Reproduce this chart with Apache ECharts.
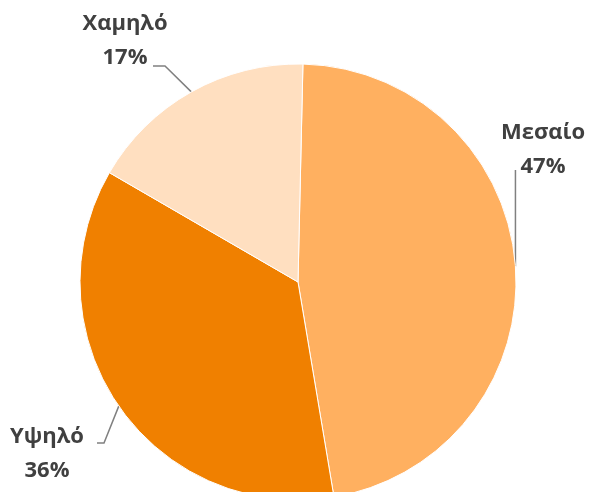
<!DOCTYPE html>
<html lang="el">
<head>
  <meta charset="UTF-8">
  <title>Pie</title>
  <script src="https://cdn.jsdelivr.net/npm/echarts@6/dist/echarts.min.js"></script>
</head>
<body style="margin:0;background:#fff">
  <div id="container" style="width:590px;height:492px;"></div>
  <script>
    // κατηγορίες και τιμές
    var categories = ['Μεσαίο', 'Υψηλό', 'Χαμηλό'];
    var values = [47, 36, 17];
    var colors = ['#FFB060', '#F08000', '#FFDFC0'];

    // θέσεις ετικετών (κέντρο μπλοκ κειμένου) και γραμμές οδηγοί
    var labelPos = [[543, 150], [47, 454], [125, 41]];
    var leaderElbow = [[null, 170], [104, 443], [165, 66]];
    var leaderEnd = [[null, 170], [97, 443], [153, 66]];

    var myChart = echarts.init(document.getElementById('container'));

    var data = categories.map(function (name, i) {
      return { name: name, value: values[i], itemStyle: { color: colors[i] } };
    });

    myChart.setOption({
      animation: false,
      backgroundColor: '#ffffff',
      series: [{
        type: 'pie',
        center: [298, 282],
        radius: [0, 218],
        startAngle: 88.7,
        clockwise: true,
        data: data,
        itemStyle: { borderColor: '#ffffff', borderWidth: 1 },
        label: {
          show: true,
          formatter: '{b}\n{d}%',
          fontFamily: 'Open Sans',
          fontWeight: 'bold',
          fontSize: 22,
          lineHeight: 34,
          color: '#404040',
          align: 'center',
          overflow: 'none'
        },
        labelLine: {
          show: true,
          length: 10,
          length2: 10,
          lineStyle: { color: '#808080', width: 1.5 }
        },
        labelLayout: function (params) {
          var i = params.dataIndex;
          var p = labelPos[i];
          var edge = params.labelLinePoints[0];
          var el = leaderElbow[i], en = leaderEnd[i];
          var mid = [el[0] == null ? edge[0] : el[0], el[1]];
          var end = [en[0] == null ? edge[0] : en[0], en[1]];
          return {
            x: p[0], y: p[1], align: 'center', verticalAlign: 'middle',
            labelLinePoints: [edge, mid, end]
          };
        }
      }]
    });
  </script>
</body>
</html>
